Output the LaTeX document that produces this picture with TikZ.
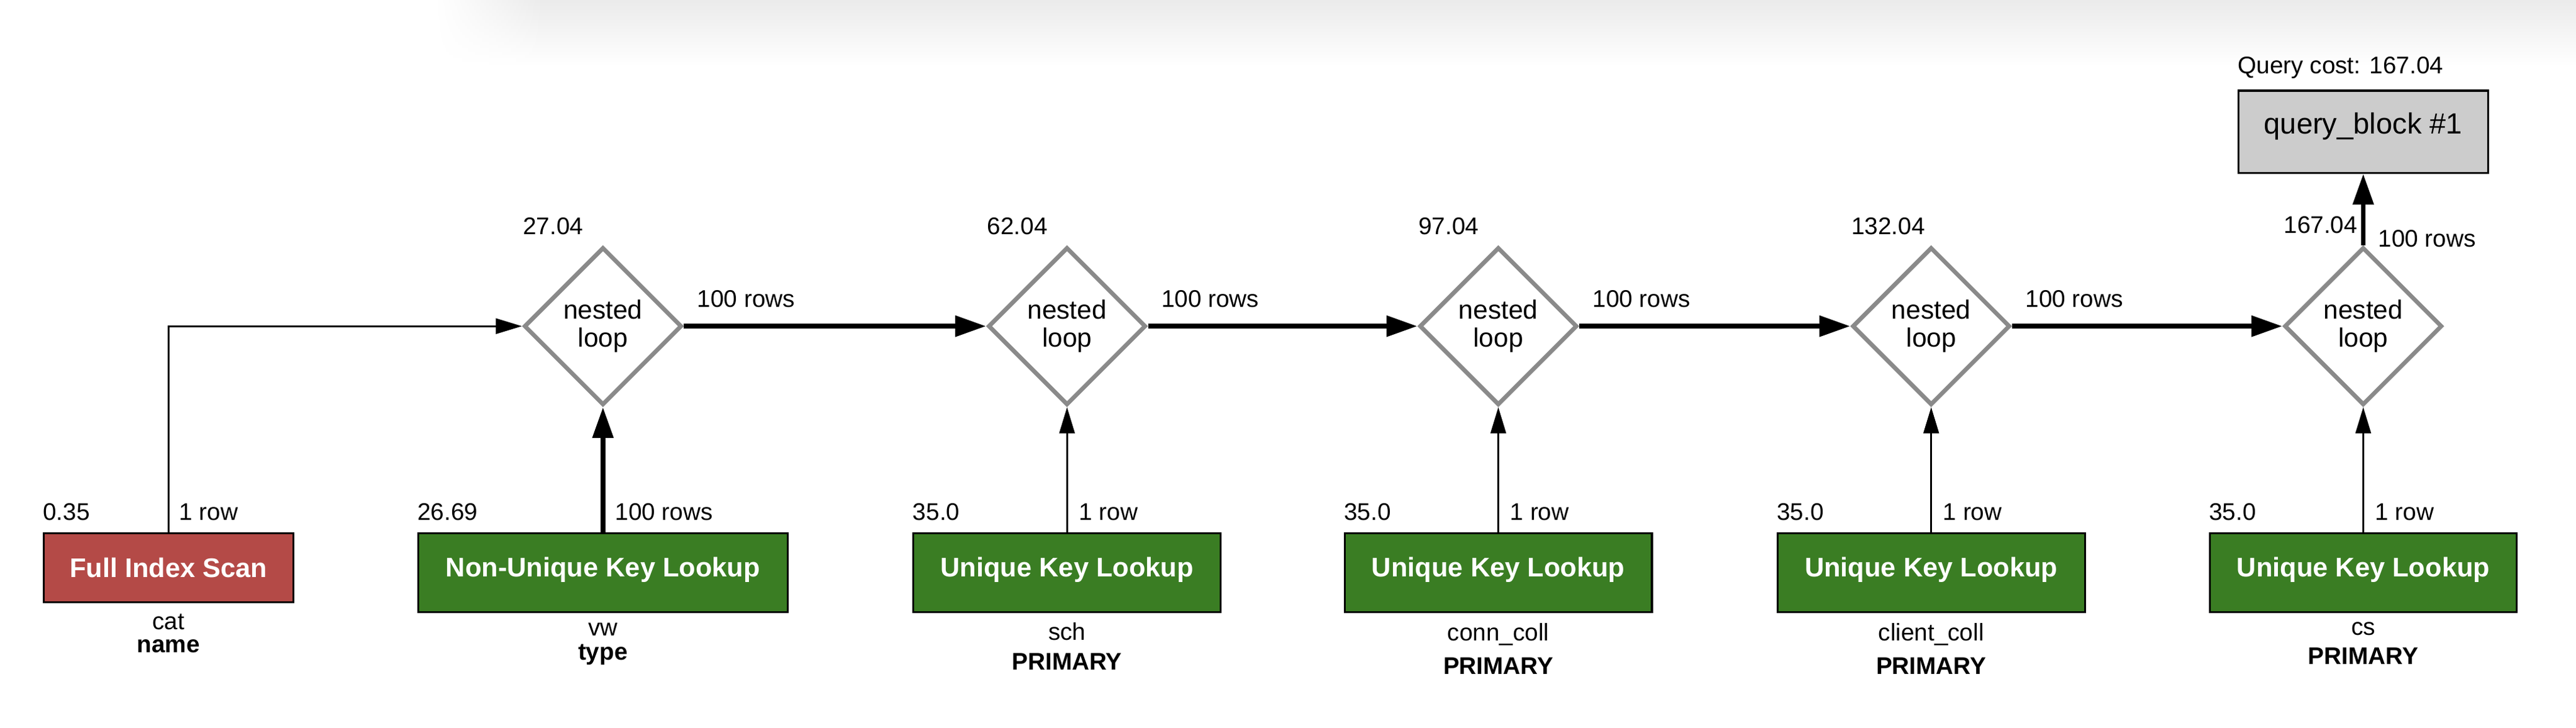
\documentclass[tikz,border=0pt]{standalone}
\usepackage{fontspec}
\setmainfont{Liberation Sans}
\usetikzlibrary{shapes.geometric,arrows.meta,positioning,fadings}
\definecolor{scanred}{RGB}{180,74,71}
\definecolor{keygreen}{RGB}{58,125,35}
\definecolor{loopgray}{RGB}{138,138,138}
\definecolor{blockgray}{RGB}{204,204,204}
\begin{document}
\begin{tikzpicture}[x=0.03cm, y=-0.03cm,
  access/.style={draw=black, line width=1pt, text=white, font=\fontsize{14}{16}\selectfont\bfseries, minimum height=1.44cm, inner sep=0pt},
  fullscan/.style={access, fill=scanred, minimum width=4.56cm, minimum height=1.26cm},
  keylookup/.style={access, fill=keygreen, minimum width=5.61cm, text depth=6pt},
  nestedloop/.style={diamond, draw=loopgray, fill=white, line width=2.2pt, minimum width=2.88cm, minimum height=2.88cm, inner sep=0pt, align=center, font=\fontsize{13.7}{14.5}\selectfont},
  queryblock/.style={draw=black, fill=blockgray, line width=1pt, minimum width=4.56cm, minimum height=1.5cm, text depth=9pt, font=\fontsize{15.2}{18}\selectfont},
  cost/.style={inner sep=0pt, font=\fontsize{12.5}{14}\selectfont},
  rows/.style={cost, anchor=west},
  tablename/.style={cost, anchor=base},
  keyname/.style={cost, anchor=base, font=\fontsize{12.5}{14}\selectfont\bfseries},
  onerow/.style={draw, line width=0.95pt, -{Triangle[length=13.6pt, width=8pt]}},
  manyrows/.style={draw, line width=2.5pt, -{Triangle[length=16pt, width=10.5pt]}}]
  \useasboundingbox (0,0) rectangle (1568,443);
  \shade[top color=black!8, bottom color=white] (330,0) rectangle (1568,40);
  \shade[top color=black!8, bottom color=white, path fading=west] (265,0) rectangle (330,40);

  \node [queryblock] (Block) at (1438.5,80.2) {query\_block \#1};
  \node [nestedloop] (Loop1) at (367,198.5) {nested\\loop};
  \node [nestedloop] (Loop2) at (649.5,198.5) {nested\\loop};
  \node [nestedloop] (Loop3) at (912,198.5) {nested\\loop};
  \node [nestedloop] (Loop4) at (1175.5,198.5) {nested\\loop};
  \node [nestedloop] (Loop5) at (1438.5,198.5) {nested\\loop};
  \node [fullscan] (Scan) at (102.5,345.5) {Full Index Scan};
  \node [keylookup, minimum width=6.75cm] (Lookup1) at (367,348.5) {Non-Unique Key Lookup};
  \node [keylookup] (Lookup2) at (649.5,348.5) {Unique Key Lookup};
  \node [keylookup] (Lookup3) at (912,348.5) {Unique Key Lookup};
  \node [keylookup] (Lookup4) at (1175.5,348.5) {Unique Key Lookup};
  \node [keylookup] (Lookup5) at (1438.5,348.5) {Unique Key Lookup};

  \draw [onerow] (Scan.north) |- node[rows, pos=0, xshift=0.18cm, yshift=0.37cm]{1 row} (Loop1.west);
  \draw [manyrows] (Lookup1.north) -- node[rows, pos=0, xshift=0.18cm, yshift=0.37cm]{100 rows} (Loop1.south);
  \draw [onerow] (Lookup2.north) -- node[rows, pos=0, xshift=0.2cm, yshift=0.37cm]{1 row} (Loop2.south);
  \draw [onerow] (Lookup3.north) -- node[rows, pos=0, xshift=0.2cm, yshift=0.37cm]{1 row} (Loop3.south);
  \draw [onerow] (Lookup4.north) -- node[rows, pos=0, xshift=0.2cm, yshift=0.37cm]{1 row} (Loop4.south);
  \draw [onerow] (Lookup5.north) -- node[rows, pos=0, xshift=0.2cm, yshift=0.37cm]{1 row} (Loop5.south);
  \draw [manyrows] (Loop1.east) -- node[rows, pos=0, xshift=0.2cm, yshift=0.5cm]{100 rows} (Loop2.west);
  \draw [manyrows] (Loop2.east) -- node[rows, pos=0, xshift=0.2cm, yshift=0.5cm]{100 rows} (Loop3.west);
  \draw [manyrows] (Loop3.east) -- node[rows, pos=0, xshift=0.2cm, yshift=0.5cm]{100 rows} (Loop4.west);
  \draw [manyrows] (Loop4.east) -- node[rows, pos=0, xshift=0.2cm, yshift=0.5cm]{100 rows} (Loop5.west);
  \draw [manyrows] (Loop5.north) -- node[rows, pos=0, xshift=0.23cm, yshift=0.12cm]{100 rows} (Block.south);

  \node [cost, anchor=west] (costBlock) at ([yshift=0.4cm]Block.north west) {Query cost: 167.04};
  \node [cost, anchor=west] (cost1) at ([xshift=-1.464cm, yshift=1.83cm]Loop1.center) {27.04};
  \node [cost, anchor=west] (cost2) at ([xshift=-1.464cm, yshift=1.83cm]Loop2.center) {62.04};
  \node [cost, anchor=west] (cost3) at ([xshift=-1.464cm, yshift=1.83cm]Loop3.center) {97.04};
  \node [cost, anchor=west] (cost4) at ([xshift=-1.464cm, yshift=1.83cm]Loop4.center) {132.04};
  \node [cost, anchor=east] (cost5) at ([xshift=-0.1cm, yshift=1.85cm]Loop5.center) {167.04};
  \node [cost, anchor=west] (costScan) at ([yshift=0.37cm]Scan.north west) {0.35};
  \node [cost, anchor=west] (costLookup1) at ([yshift=0.37cm]Lookup1.north west) {26.69};
  \node [cost, anchor=west] (costLookup2) at ([yshift=0.37cm]Lookup2.north west) {35.0};
  \node [cost, anchor=west] (costLookup3) at ([yshift=0.37cm]Lookup3.north west) {35.0};
  \node [cost, anchor=west] (costLookup4) at ([yshift=0.37cm]Lookup4.north west) {35.0};
  \node [cost, anchor=west] (costLookup5) at ([yshift=0.37cm]Lookup5.north west) {35.0};

  \node [tablename] (tabScan) at ([yshift=-0.48cm]Scan.south) {cat};
  \node [keyname] (keyScan) at ([yshift=-0.9cm]Scan.south) {name};
  \node [tablename] (tabLookup1) at ([yshift=-0.41cm]Lookup1.south) {vw};
  \node [keyname] (keyLookup1) at ([yshift=-0.86cm]Lookup1.south) {type};
  \node [tablename] (tabLookup2) at ([yshift=-0.49cm]Lookup2.south) {sch};
  \node [keyname] (keyLookup2) at ([yshift=-1.04cm]Lookup2.south) {PRIMARY};
  \node [tablename] (tabLookup3) at ([yshift=-0.5cm]Lookup3.south) {conn\_coll};
  \node [keyname] (keyLookup3) at ([yshift=-1.12cm]Lookup3.south) {PRIMARY};
  \node [tablename] (tabLookup4) at ([yshift=-0.5cm]Lookup4.south) {client\_coll};
  \node [keyname] (keyLookup4) at ([yshift=-1.12cm]Lookup4.south) {PRIMARY};
  \node [tablename] (tabLookup5) at ([yshift=-0.4cm]Lookup5.south) {cs};
  \node [keyname] (keyLookup5) at ([yshift=-0.94cm]Lookup5.south) {PRIMARY};
\end{tikzpicture}
\end{document}
